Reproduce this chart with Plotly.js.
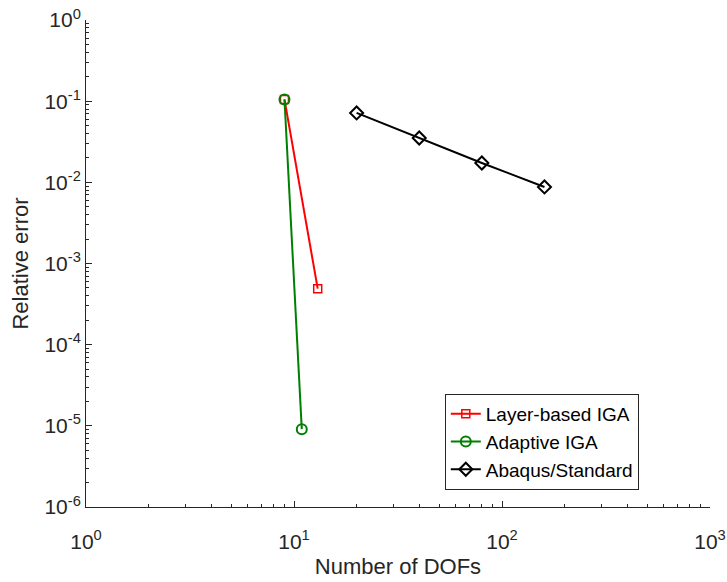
<!DOCTYPE html>
<html>
<head>
<meta charset="utf-8">
<script src="https://cdn.plot.ly/plotly-3.0.1.min.js"></script>
<style>html,body{margin:0;padding:0;background:#fff;}#chart{width:727px;height:582px;}</style>
</head>
<body>
<div id="chart"></div>
<script>
const layerDofs = [9, 13];
const layerErr = [0.105, 0.00049];
const adaptiveDofs = [9, 10.9];
const adaptiveErr = [0.105, 0.0000091];
const abaqusDofs = [20, 40, 80, 160];
const abaqusErr = [0.0716, 0.0352, 0.0173, 0.00877];

const xTickVals = [1, 10, 100, 1000];
const xTickText = ['10<sup>0</sup>', '10<sup>1</sup>', '10<sup>2</sup>', '10<sup>3</sup>'];
const yTickVals = [1e-6, 1e-5, 1e-4, 1e-3, 1e-2, 1e-1, 1];
const yTickText = ['10<sup>-6</sup>', '10<sup>-5</sup>', '10<sup>-4</sup>', '10<sup>-3</sup>', '10<sup>-2</sup>', '10<sup>-1</sup>', '10<sup>0</sup>'];

function minorVals(lo, hi) {
  const out = [];
  for (let e = lo; e < hi; e++) {
    for (let m = 2; m <= 9; m++) out.push(m * Math.pow(10, e));
  }
  return out;
}

const traces = [
  {x: layerDofs, y: layerErr, name: 'Layer-based IGA', mode: 'lines+markers',
   line: {color: '#ff0000', width: 2},
   marker: {symbol: 'square-open', size: 8, color: '#ff0000', line: {width: 1.5, color: '#ff0000'}}},
  {x: adaptiveDofs, y: adaptiveErr, name: 'Adaptive IGA', mode: 'lines+markers',
   line: {color: '#008000', width: 2},
   marker: {symbol: 'circle-open', size: 10, color: '#008000', line: {width: 2, color: '#008000'}}},
  {x: abaqusDofs, y: abaqusErr, name: 'Abaqus/Standard', mode: 'lines+markers',
   line: {color: '#000000', width: 2},
   marker: {symbol: 'diamond-open', size: 10, color: '#000000', line: {width: 2, color: '#000000'}}}
];

const layout = {
  width: 727, height: 582,
  margin: {l: 86, r: 17, t: 20, b: 75},
  paper_bgcolor: '#fff', plot_bgcolor: '#fff',
  font: {family: 'Liberation Sans, Arial, sans-serif', color: '#262626', size: 20},
  showlegend: true,
  legend: {x: 0.575, y: 0.232, xanchor: 'left', yanchor: 'top',
    bgcolor: '#fff', bordercolor: '#262626', borderwidth: 1, itemwidth: 30,
    font: {size: 19, color: '#000'}, tracegroupgap: 0},
  xaxis: {type: 'log', range: [0, 3], tickvals: xTickVals, ticktext: xTickText,
    ticks: 'inside', ticklen: 6, tickcolor: '#262626', showgrid: false, zeroline: false,
    showline: true, linecolor: '#262626', linewidth: 1, mirror: false,
    ticklabeloverflow: 'allow', ticklabelstandoff: 16,
    tickfont: {size: 21, color: '#262626'},
    minor: {tickvals: minorVals(0, 3), ticks: 'inside', ticklen: 3, tickcolor: '#262626', showgrid: false},
    title: {text: 'Number of DOFs', font: {size: 22, color: '#262626'}, standoff: 6}},
  yaxis: {type: 'log', range: [-6, 0], tickvals: yTickVals, ticktext: yTickText,
    ticks: 'inside', ticklen: 6, tickcolor: '#262626', showgrid: false, zeroline: false,
    showline: true, linecolor: '#262626', linewidth: 1, mirror: false,
    ticklabeloverflow: 'allow',
    tickfont: {size: 21, color: '#262626'},
    minor: {tickvals: minorVals(-6, 0), ticks: 'inside', ticklen: 3, tickcolor: '#262626', showgrid: false},
    title: {text: 'Relative error', font: {size: 22, color: '#262626'}, standoff: 9}}
};

Plotly.newPlot('chart', traces, layout, {displayModeBar: false, staticPlot: true});
</script>
</body>
</html>
